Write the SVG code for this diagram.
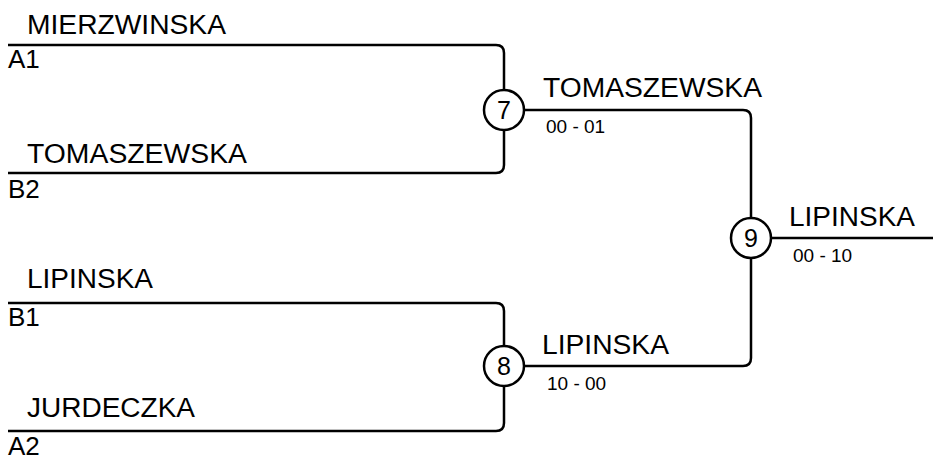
<svg xmlns="http://www.w3.org/2000/svg" width="933" height="457" viewBox="0 0 933 457">
<style>
  .ln{fill:none;stroke:#000;stroke-width:2.5;stroke-linejoin:round}
  .nm{font-family:"Liberation Sans",Arial,sans-serif;font-size:27px;fill:#000}
  .sd{font-family:"Liberation Sans",Arial,sans-serif;font-size:26px;fill:#000}
  .sc{font-family:"Liberation Sans",Arial,sans-serif;font-size:19px;fill:#000}
  .cn{fill:#fff;stroke:#000;stroke-width:2.5}
  .cd{font-family:"Liberation Sans",Arial,sans-serif;font-size:25px;fill:#000;text-anchor:middle}
</style>
<rect width="933" height="457" fill="#fff"/>
<g id="connectors">
  <path class="ln" d="M8,45 H496 Q504,45 504,53 V90"/>
  <path class="ln" d="M8,173 H496 Q504,173 504,165 V130"/>
  <path class="ln" d="M524,110 H743 Q751,110 751,118 V218"/>
  <path class="ln" d="M8,303 H496 Q504,303 504,311 V346"/>
  <path class="ln" d="M8,431 H496 Q504,431 504,423 V386"/>
  <path class="ln" d="M524,366 H743 Q751,366 751,358 V258"/>
  <path class="ln" d="M771,238 H933"/>
</g>
<g id="entry-A1">
  <text class="nm" x="27" y="34" textLength="199" lengthAdjust="spacingAndGlyphs">MIERZWINSKA</text>
  <text class="sd" x="8" y="68">A1</text>
</g>
<g id="entry-B2">
  <text class="nm" x="27" y="163" textLength="220" lengthAdjust="spacingAndGlyphs">TOMASZEWSKA</text>
  <text class="sd" x="8" y="198">B2</text>
</g>
<g id="entry-B1">
  <text class="nm" x="27" y="288" textLength="126" lengthAdjust="spacingAndGlyphs">LIPINSKA</text>
  <text class="sd" x="8" y="326">B1</text>
</g>
<g id="entry-A2">
  <text class="nm" x="27" y="417" textLength="168" lengthAdjust="spacingAndGlyphs">JURDECZKA</text>
  <text class="sd" x="8" y="455">A2</text>
</g>
<g id="match-7">
  <circle class="cn" cx="504" cy="110" r="20"/>
  <text class="cd" x="504" y="119">7</text>
  <text class="nm" x="543" y="97" textLength="219" lengthAdjust="spacingAndGlyphs">TOMASZEWSKA</text>
  <text class="sc" x="546" y="133">00 - 01</text>
</g>
<g id="match-8">
  <circle class="cn" cx="504" cy="366" r="20"/>
  <text class="cd" x="504" y="375">8</text>
  <text class="nm" x="542" y="354" textLength="127" lengthAdjust="spacingAndGlyphs">LIPINSKA</text>
  <text class="sc" x="547" y="390">10 - 00</text>
</g>
<g id="match-9">
  <circle class="cn" cx="751" cy="238" r="20"/>
  <text class="cd" x="751" y="247">9</text>
  <text class="nm" x="789" y="226" textLength="126" lengthAdjust="spacingAndGlyphs">LIPINSKA</text>
  <text class="sc" x="793" y="262">00 - 10</text>
</g>
</svg>
